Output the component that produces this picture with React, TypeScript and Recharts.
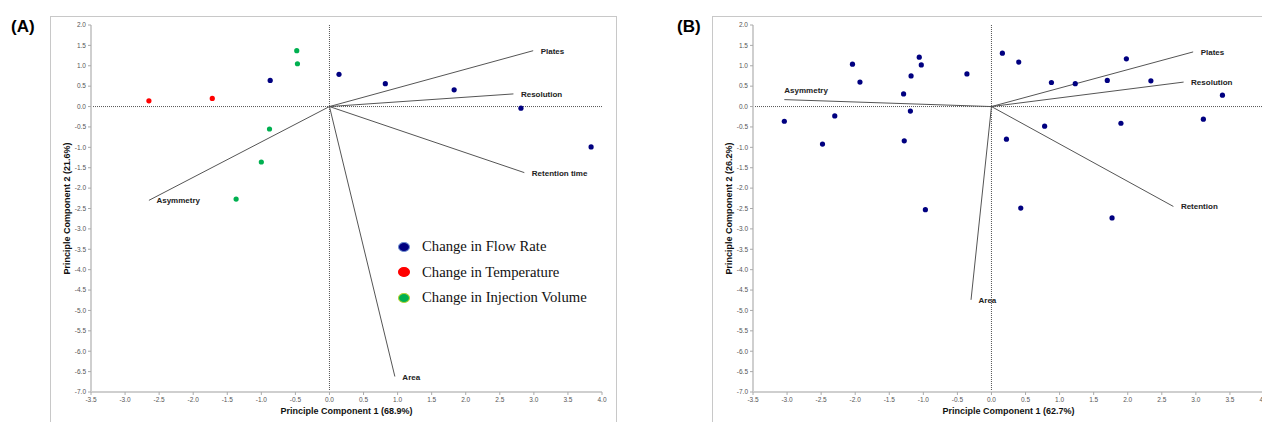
import {
  Legend,
  ReferenceLine,
  Scatter,
  ScatterChart,
  XAxis,
  YAxis,
} from "recharts";

const xTicks = [-3.5, -3, -2.5, -2, -1.5, -1, -0.5, 0, 0.5, 1, 1.5, 2, 2.5, 3, 3.5, 4];
const yTicks = [
  -7, -6.5, -6, -5.5, -5, -4.5, -4, -3.5, -3, -2.5, -2, -1.5, -1, -0.5, 0, 0.5, 1, 1.5, 2,
];

// panel A scores
const flowRateA = [
  { x: -0.87, y: 0.64 },
  { x: 0.14, y: 0.79 },
  { x: 0.82, y: 0.56 },
  { x: 1.83, y: 0.41 },
  { x: 2.81, y: -0.04 },
  { x: 3.84, y: -0.99 },
];
const temperatureA = [
  { x: -2.65, y: 0.14 },
  { x: -1.72, y: 0.2 },
];
const injectionA = [
  { x: -0.48, y: 1.37 },
  { x: -0.47, y: 1.05 },
  { x: -0.88, y: -0.55 },
  { x: -1.0, y: -1.36 },
  { x: -1.37, y: -2.27 },
];
// panel A loadings
const loadingsA = [
  { name: "Plates", x: 2.99, y: 1.37 },
  { name: "Resolution", x: 2.7, y: 0.31 },
  { name: "Retention time", x: 2.86, y: -1.62 },
  { name: "Area", x: 0.96, y: -6.62 },
  { name: "Asymmetry", x: -2.65, y: -2.3 },
];

// panel B scores
const samplesB = [
  { x: -3.04, y: -0.36 },
  { x: -2.48, y: -0.92 },
  { x: -2.3, y: -0.23 },
  { x: -2.04, y: 1.04 },
  { x: -1.93, y: 0.6 },
  { x: -1.29, y: 0.31 },
  { x: -1.28, y: -0.84 },
  { x: -1.19, y: -0.11 },
  { x: -1.18, y: 0.75 },
  { x: -1.06, y: 1.21 },
  { x: -1.03, y: 1.02 },
  { x: -0.36, y: 0.8 },
  { x: -0.97, y: -2.53 },
  { x: 0.16, y: 1.31 },
  { x: 0.4, y: 1.09 },
  { x: 0.88, y: 0.59 },
  { x: 1.23, y: 0.56 },
  { x: 1.7, y: 0.64 },
  { x: 1.98, y: 1.17 },
  { x: 2.34, y: 0.63 },
  { x: 3.39, y: 0.28 },
  { x: 3.11, y: -0.31 },
  { x: 1.9, y: -0.41 },
  { x: 0.78, y: -0.48 },
  { x: 0.22, y: -0.8 },
  { x: 0.43, y: -2.49 },
  { x: 1.77, y: -2.73 },
];
// panel B loadings
const loadingsB = [
  { name: "Asymmetry", x: -3.04, y: 0.17 },
  { name: "Plates", x: 2.96, y: 1.34 },
  { name: "Resolution", x: 2.82, y: 0.6 },
  { name: "Retention", x: 2.67, y: -2.45 },
  { name: "Area", x: -0.3, y: -4.74 },
];

const legendOrder = [
  "Change in Flow Rate",
  "Change in Temperature",
  "Change in Injection Volume",
];

const NAVY = "#000080";
const FONT = "'Liberation Sans', Arial, sans-serif";

// label nudges (px) that differ from the default "right of the arrow tip"
const labelNudge: Record<string, [number, number]> = {
  "B:Asymmetry": [0, -9],
};

const markerRing: Record<string, string> = {
  "Change in Flow Rate": "#6f8fd0",
  "Change in Temperature": "#ff0000",
  "Change in Injection Volume": "#b5d334",
};

const fmt = (v: number) => v.toFixed(1);

const dot = (color: string) => (p: any) =>
  <circle cx={p.cx} cy={p.cy} r={2.6} fill={color} />;

function makeVectorLabel(panel: string) {
  return (p: any) => {
    const nudge = labelNudge[`${panel}:${p.payload.name}`] ?? [7.5, 0.5];
    return (
      <text
        x={p.cx + nudge[0]}
        y={p.cy + nudge[1]}
        dominantBaseline="central"
        fontSize={8}
        fontWeight="bold"
        fill="#222"
        fontFamily={FONT}
      >
        {p.payload.name}
      </text>
    );
  };
}

function YTitle({ viewBox, text }: any) {
  const x = viewBox.x + 17;
  const y = viewBox.y + viewBox.height / 2;
  return (
    <text
      x={x}
      y={y}
      transform={`rotate(-90 ${x} ${y})`}
      textAnchor="middle"
      dominantBaseline="central"
      fontSize={9}
      fontWeight="bold"
      fill="#111"
      fontFamily={FONT}
    >
      {text}
    </text>
  );
}

function XTitle({ viewBox, text }: any) {
  return (
    <text
      x={viewBox.x + viewBox.width / 2}
      y={viewBox.y + 19}
      textAnchor="middle"
      dominantBaseline="central"
      fontSize={9}
      fontWeight="bold"
      fill="#111"
      fontFamily={FONT}
    >
      {text}
    </text>
  );
}

function SeriesLegend({ payload }: any) {
  const items = (payload ?? [])
    .filter((item: any) => legendOrder.includes(item.value))
    .sort(
      (a: any, b: any) => legendOrder.indexOf(a.value) - legendOrder.indexOf(b.value)
    );
  return (
    <div>
      {items.map((item: any) => (
        <div
          key={item.value}
          style={{ display: "flex", alignItems: "center", height: 25.5 }}
        >
          <span
            style={{
              display: "inline-block",
              width: 10,
              height: 8,
              borderRadius: "50%",
              background: item.color,
              border: `1px solid ${markerRing[item.value] ?? item.color}`,
            }}
          />
          <span
            style={{
              marginLeft: 12,
              fontFamily: "'Liberation Serif', 'Times New Roman', serif",
              fontSize: 14.7,
              color: "#111",
              whiteSpace: "nowrap",
            }}
          >
            {item.value}
          </span>
        </div>
      ))}
    </div>
  );
}

function PcaPanel({
  panel,
  xTitle,
  yTitle,
  loadings,
  children,
}: {
  panel: string;
  xTitle: string;
  yTitle: string;
  loadings: { name: string; x: number; y: number }[];
  children: React.ReactNode;
}) {
  return (
    <ScatterChart
      width={620}
      height={422}
      margin={{ top: 25, right: 18, bottom: 0, left: 50 }}
    >
      <XAxis
        type="number"
        dataKey="x"
        domain={[-3.5, 4]}
        ticks={xTicks}
        interval={0}
        tickFormatter={fmt}
        height={30}
        tickSize={3}
        tickMargin={2}
        axisLine={{ stroke: "#cfcfcf", strokeWidth: 2 }}
        tickLine={{ stroke: "#aaa" }}
        tick={{ fontSize: 6.5, fill: "#555", fontFamily: FONT }}
        label={<XTitle text={xTitle} />}
      />
      <YAxis
        type="number"
        dataKey="y"
        domain={[-7, 2]}
        ticks={yTicks}
        interval={0}
        tickFormatter={fmt}
        width={41}
        tickSize={3}
        tickMargin={2}
        axisLine={{ stroke: "#cfcfcf", strokeWidth: 2 }}
        tickLine={{ stroke: "#aaa" }}
        tick={{ fontSize: 6.5, fill: "#555", fontFamily: FONT }}
        label={<YTitle text={yTitle} />}
      />
      <ReferenceLine x={0} stroke="#555" strokeDasharray="1 1" />
      <ReferenceLine y={0} stroke="#555" strokeDasharray="1 1" />
      {loadings.map((l) => (
        <ReferenceLine
          key={l.name}
          segment={[
            { x: 0, y: 0 },
            { x: l.x, y: l.y },
          ]}
          stroke="#555"
        />
      ))}
      <Scatter
        data={loadings}
        legendType="none"
        shape={makeVectorLabel(panel)}
        isAnimationActive={false}
      />
      {children}
    </ScatterChart>
  );
}

export default function App() {
  return (
    <div
      style={{
        position: "absolute",
        top: 0,
        left: 0,
        width: 1262,
        height: 422,
        overflow: "hidden",
        background: "#fff",
        fontFamily: FONT,
      }}
    >
      <div
        style={{
          position: "absolute",
          left: 50,
          top: 16,
          width: 565,
          height: 420,
          border: "1px solid #c8c8c8",
        }}
      />
      <div
        style={{
          position: "absolute",
          left: 712,
          top: 16,
          width: 600,
          height: 420,
          border: "1px solid #c8c8c8",
        }}
      />
      <div
        style={{
          position: "absolute",
          left: 11,
          top: 17,
          fontSize: 17,
          fontWeight: "bold",
          fontFamily: FONT,
        }}
      >
        (A)
      </div>
      <div
        style={{
          position: "absolute",
          left: 677,
          top: 17,
          fontSize: 17,
          fontWeight: "bold",
          fontFamily: FONT,
        }}
      >
        (B)
      </div>

      <div style={{ position: "absolute", left: 0, top: 0 }}>
        <PcaPanel
          panel="A"
          xTitle="Principle Component 1 (68.9%)"
          yTitle="Principle Component 2 (21.6%)"
          loadings={loadingsA}
        >
          <Scatter
            name="Change in Flow Rate"
            data={flowRateA}
            fill={NAVY}
            shape={dot(NAVY)}
            isAnimationActive={false}
          />
          <Scatter
            name="Change in Temperature"
            data={temperatureA}
            fill="#ff0000"
            shape={dot("#ff0000")}
            isAnimationActive={false}
          />
          <Scatter
            name="Change in Injection Volume"
            data={injectionA}
            fill="#00b050"
            shape={dot("#00b050")}
            isAnimationActive={false}
          />
          <Legend
            layout="vertical"
            align="center"
            verticalAlign="middle"
            content={<SeriesLegend />}
            wrapperStyle={{ position: "absolute", left: 398, top: 234, width: 220 }}
          />
        </PcaPanel>
      </div>

      <div style={{ position: "absolute", left: 662, top: 0 }}>
        <PcaPanel
          panel="B"
          xTitle="Principle Component 1 (62.7%)"
          yTitle="Principle Component 2 (26.2%)"
          loadings={loadingsB}
        >
          <Scatter
            data={samplesB}
            fill={NAVY}
            shape={dot(NAVY)}
            isAnimationActive={false}
          />
        </PcaPanel>
      </div>
    </div>
  );
}
